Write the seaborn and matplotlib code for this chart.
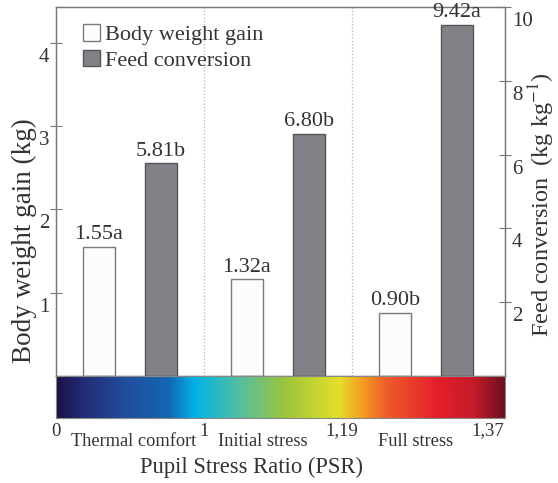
import numpy as np
import pandas as pd
import seaborn as sns
import matplotlib.pyplot as plt
from matplotlib.patches import Patch
from matplotlib.colors import LinearSegmentedColormap
from matplotlib.transforms import ScaledTranslation

# data
conditions = ['Thermal comfort', 'Initial stress', 'Full stress']
series = ['Body weight gain', 'Feed conversion']
bwg = [1.55, 1.16, 0.76]          # kg (bar heights as drawn)
fc = [5.76, 6.57, 9.51]           # kg kg-1 (bar heights as drawn)
bwg_labels = ['1.55a', '1.32a', '0.90b']
fc_labels = ['5.81b', '6.80b', '9.42a']
psr_ticks = ['0', '1', '1,19', '1,37']

sns.set_style('white')
plt.rcParams['font.family'] = ['Liberation Serif', 'DejaVu Serif']
plt.rcParams['mathtext.fontset'] = 'stix'
txt = '#333333'

df = pd.DataFrame({
    'cond': conditions * 2,
    'series': [series[0]] * 3 + [series[1]] * 3,
    'value': bwg + fc,
})
pal = {series[0]: '#fcfcfc', series[1]: '#808288'}

W, H = 558, 483
fig = plt.figure(figsize=(W / 100, H / 100), dpi=100)
ax = fig.add_axes([56 / W, 1 - 376 / H, 449 / W, 369 / H])
ax2 = ax.twinx()

sns.barplot(data=df[df['series'] == series[0]], x='cond', y='value', hue='series',
            hue_order=series, order=conditions, palette=pal, dodge=True,
            width=0.84, gap=0.48, edgecolor='#7a7a7a', linewidth=1,
            errorbar=None, legend=False, ax=ax)
sns.barplot(data=df[df['series'] == series[1]], x='cond', y='value', hue='series',
            hue_order=series, order=conditions, palette=pal, dodge=True,
            width=0.84, gap=0.48, edgecolor='#555555', linewidth=1,
            errorbar=None, legend=False, ax=ax2)

ax.set_xlim(-0.5, 2.534)
ax.set_ylim(0, 4.43)
ax2.set_ylim(0, 10)

# value labels above the bars
for a, labels in ((ax, bwg_labels), (ax2, fc_labels)):
    bars = sorted(a.patches, key=lambda p: p.get_x())
    for p, lab in zip(bars, labels):
        a.annotate(lab, (p.get_x() + p.get_width() / 2, p.get_height()),
                   xytext=(0, 2), textcoords='offset points', ha='center', va='bottom',
                   fontsize=16, color=txt)

# dotted separators between zones
for xs in [0.5, 1.5]:
    ax.axvline(xs, color='#b5b5b5', ls=':', lw=0.9, zorder=0)

ax.set_xticks([])
ax.set_xlabel('')
ax2.set_xlabel('')
ax.set_yticks([1, 2, 3, 4])
ax2.set_yticks([2, 4, 6, 8, 10])
shift = ScaledTranslation(0, -0.12, fig.dpi_scale_trans)
for a in (ax, ax2):
    a.tick_params(axis='y', direction='inout', length=8, width=0.8, color='#777777',
                  labelsize=15, labelcolor=txt, pad=1)
    for lbl in a.get_yticklabels():
        lbl.set_transform(lbl.get_transform() + shift)
    for s in a.spines.values():
        s.set_color('#777777')
        s.set_linewidth(0.9)

ax.set_ylabel('Body weight gain (kg)', fontsize=19.5, color=txt)
ax.yaxis.set_label_coords(-0.042, (376 - 241) / 369)
ax2.set_ylabel('Feed conversion  (kg kg$^{-1}$)', fontsize=17.5, color=txt)
ax2.yaxis.set_label_coords(1.049, (376 - 205) / 369)

# legend
handles = [Patch(facecolor='#fcfcfc', edgecolor='#7a7a7a', lw=1),
           Patch(facecolor='#808288', edgecolor='#555555', lw=1)]
leg = ax2.legend(handles, series, loc='upper left', bbox_to_anchor=(0.04, 0.977),
                 frameon=False, fontsize=16, handlelength=0.75, handleheight=0.75,
                 handletextpad=0.25, labelspacing=0.2, borderaxespad=0)
for t in leg.get_texts():
    t.set_color(txt)

# PSR colour scale
cmap = LinearSegmentedColormap.from_list('psr', [
    (0.00, '#1a1248'), (0.06, '#232c74'), (0.15, '#1f4d9c'), (0.25, '#1466b2'),
    (0.31, '#00b4e6'), (0.41, '#55bfa0'), (0.51, '#9cc43c'), (0.63, '#e3e02c'),
    (0.68, '#f5a021'), (0.74, '#ee5a2a'), (0.85, '#e51f2a'), (0.93, '#c81b2a'),
    (1.00, '#701020')])
cax = fig.add_axes([56 / W, 1 - 418 / H, 449 / W, 42 / H])
cax.imshow(np.linspace(0, 1, 512)[None, :], aspect='auto', cmap=cmap,
           extent=[0, 1, 0, 1])
cax.set_xticks([])
cax.set_yticks([])
for s in cax.spines.values():
    s.set_color('#888888')
    s.set_linewidth(0.8)

tick_x = [56, 204, 342, 488]
for lab, px in zip(psr_ticks, tick_x):
    fig.text(px / W, 1 - 431 / H, lab, ha='center', va='center', fontsize=13.5, color=txt)
zone_x = [134, 263, 416]
for lab, px in zip(conditions, zone_x):
    fig.text(px / W, 1 - 442 / H, lab, ha='center', va='center', fontsize=13.2, color=txt)
fig.text(252 / W, 1 - 467 / H, 'Pupil Stress Ratio (PSR)', ha='center', va='center',
         fontsize=16.3, color=txt)

fig.savefig('out.png', dpi=100)
